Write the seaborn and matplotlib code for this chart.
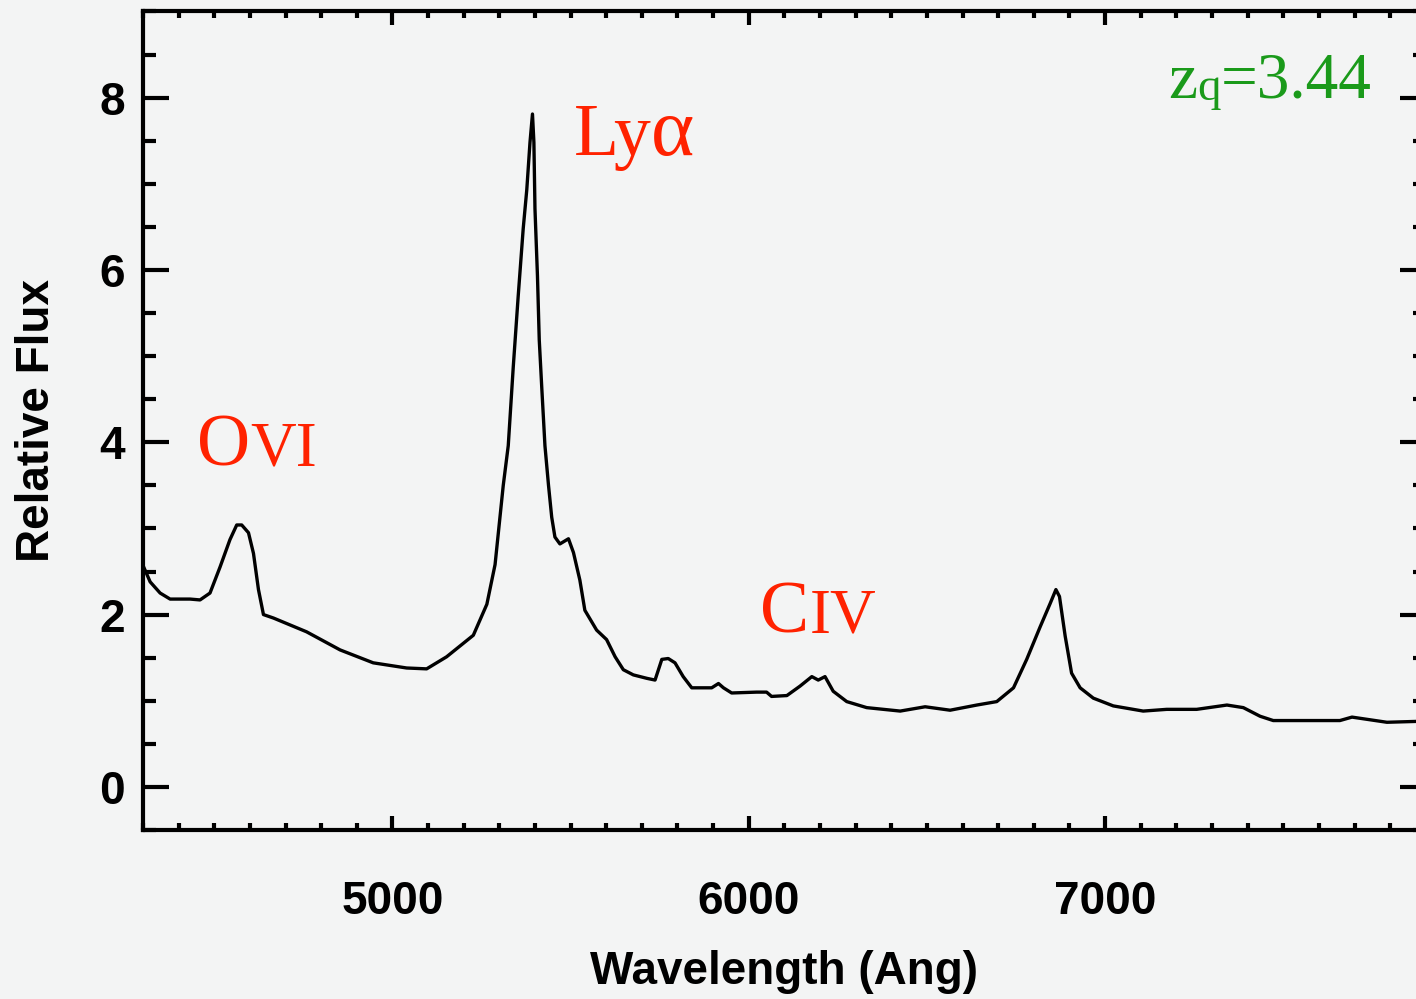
import numpy as np
import pandas as pd
import seaborn as sns
import matplotlib
matplotlib.use("Agg")
import matplotlib.pyplot as plt
from matplotlib.ticker import MultipleLocator
from matplotlib.transforms import IdentityTransform

# ---- data ----
wavelength = [4300, 4320, 4348, 4376, 4432, 4460, 4488, 4516, 4544, 4563, 4577, 4596,
              4610, 4624, 4638, 4666, 4759, 4853, 4946, 5040, 5096, 5152, 5227, 5265,
              5288, 5311, 5325, 5339, 5353, 5367, 5377, 5386, 5393, 5397, 5400, 5407,
              5412, 5419, 5428, 5438, 5447, 5456, 5470, 5494, 5508, 5526, 5540, 5573,
              5601, 5625, 5648, 5676, 5714, 5737, 5756, 5774, 5793, 5816, 5840, 5896,
              5915, 5929, 5952, 6022, 6050, 6064, 6107, 6144, 6177, 6195, 6214, 6237,
              6275, 6331, 6425, 6495, 6565, 6640, 6696, 6743, 6780, 6818, 6846, 6862,
              6872, 6888, 6906, 6930, 6967, 7023, 7107, 7173, 7257, 7342, 7388, 7435,
              7472, 7659, 7693, 7791, 7873, 7900]
flux = [2.57, 2.38, 2.25, 2.18, 2.18, 2.17, 2.25, 2.55, 2.87, 3.04, 3.04, 2.95,
        2.71, 2.29, 2.00, 1.96, 1.80, 1.59, 1.44, 1.38, 1.37, 1.51, 1.76, 2.12,
        2.58, 3.50, 3.96, 4.87, 5.70, 6.48, 6.93, 7.48, 7.81, 7.48, 6.71, 5.93,
        5.19, 4.64, 3.96, 3.50, 3.13, 2.90, 2.82, 2.88, 2.72, 2.40, 2.05, 1.82,
        1.71, 1.51, 1.36, 1.30, 1.26, 1.24, 1.48, 1.49, 1.44, 1.28, 1.15, 1.15,
        1.20, 1.15, 1.09, 1.10, 1.10, 1.05, 1.06, 1.17, 1.28, 1.24, 1.28, 1.11,
        0.99, 0.92, 0.88, 0.93, 0.89, 0.95, 0.99, 1.15, 1.48, 1.86, 2.13, 2.29,
        2.21, 1.75, 1.32, 1.15, 1.03, 0.94, 0.88, 0.90, 0.90, 0.95, 0.92, 0.82,
        0.77, 0.77, 0.81, 0.75, 0.76, 0.76]

x_ticks = [5000, 6000, 7000]
y_ticks = [0, 2, 4, 6, 8]
x_label = "Wavelength (Ang)"
y_label = "Relative Flux"

# line labels: (text parts with relative size), anchor (wavelength, flux)
line_labels = [
    ([("O", 1.0), ("VI", 0.86)], (4451, 3.73), 53),
    ([("Ly", 1.0), ("\u03b1", 1.12)], (5508, 7.34), 53),
    ([("C", 1.0), ("IV", 0.86)], (6032, 1.79), 53),
]
redshift_parts = [("z", 1.0), ("q", 0.72), ("=3.44", 1.0)]
redshift_pos = (7177, 8.0)

# ---- style ----
bg = "#f3f4f4"
sns.set_theme(style="ticks")
plt.rcParams["font.family"] = ["Liberation Sans", "DejaVu Sans"]
plt.rcParams["font.weight"] = "bold"
plt.rcParams["text.color"] = "black"
plt.rcParams["axes.labelcolor"] = "black"
plt.rcParams["xtick.color"] = "black"
plt.rcParams["ytick.color"] = "black"

fig = plt.figure(figsize=(14.16, 9.99), dpi=100, facecolor=bg)
ax = fig.add_axes([0.1010, 0.1692, 0.9059, 0.8193])
ax.set_facecolor(bg)

df = pd.DataFrame({"wl": wavelength, "flux": flux})
sns.lineplot(data=df, x="wl", y="flux", ax=ax, color="black", lw=2.4,
             estimator=None, sort=False)

ax.set_xlim(4300, 7900)
ax.set_ylim(-0.5, 9)
ax.set_xticks(x_ticks)
ax.set_yticks(y_ticks)
ax.set_xticklabels([str(v) for v in x_ticks])
ax.set_yticklabels([str(v) for v in y_ticks])
ax.xaxis.set_minor_locator(MultipleLocator(100))
ax.yaxis.set_minor_locator(MultipleLocator(0.5))

for s in ax.spines.values():
    s.set_linewidth(3.0)
    s.set_color("black")
    s.set_visible(True)

ax.tick_params(axis="x", which="both", direction="in", top=True, bottom=True,
               width=3.0, color="black", labelcolor="black", labelsize=33, pad=36)
ax.tick_params(axis="x", which="major", length=10)
ax.tick_params(axis="x", which="minor", length=5)
ax.tick_params(axis="y", which="both", direction="in", left=True, right=True,
               width=3.0, color="black", labelcolor="black", labelsize=33, pad=13)
ax.tick_params(axis="y", which="major", length=19)
ax.tick_params(axis="y", which="minor", length=9.5)
for lab in ax.get_xticklabels() + ax.get_yticklabels():
    lab.set_fontweight("bold")
    lab.set_color("black")

ax.set_xlabel(x_label, fontsize=33, fontweight="bold", labelpad=19, color="black")
ax.set_ylabel(y_label, fontsize=33, fontweight="bold", labelpad=29, color="black")

# ---- serif labels with mixed sizes, placed on a shared baseline ----
serif = ["Liberation Serif", "DejaVu Serif"]


def place_parts(parts, pos, color, base_size, sub_drop=None):
    fig.canvas.draw()
    renderer = fig.canvas.get_renderer()
    x_disp, y_disp = ax.transData.transform(pos)
    for text, rel in parts:
        dy = 0
        if sub_drop is not None and rel < 1.0:
            dy = -sub_drop
        t = ax.text(x_disp, y_disp + dy, text, transform=IdentityTransform(),
                    fontsize=base_size * rel, family=serif, fontweight="normal",
                    color=color, ha="left", va="baseline")
        bb = t.get_window_extent(renderer)
        x_disp = bb.x1


for parts, pos, size in line_labels:
    place_parts(parts, pos, "#ff2200", size)

place_parts(redshift_parts, redshift_pos, "#1a9a1a", 47, sub_drop=2)

fig.savefig("out.png", dpi=100, facecolor=bg)
